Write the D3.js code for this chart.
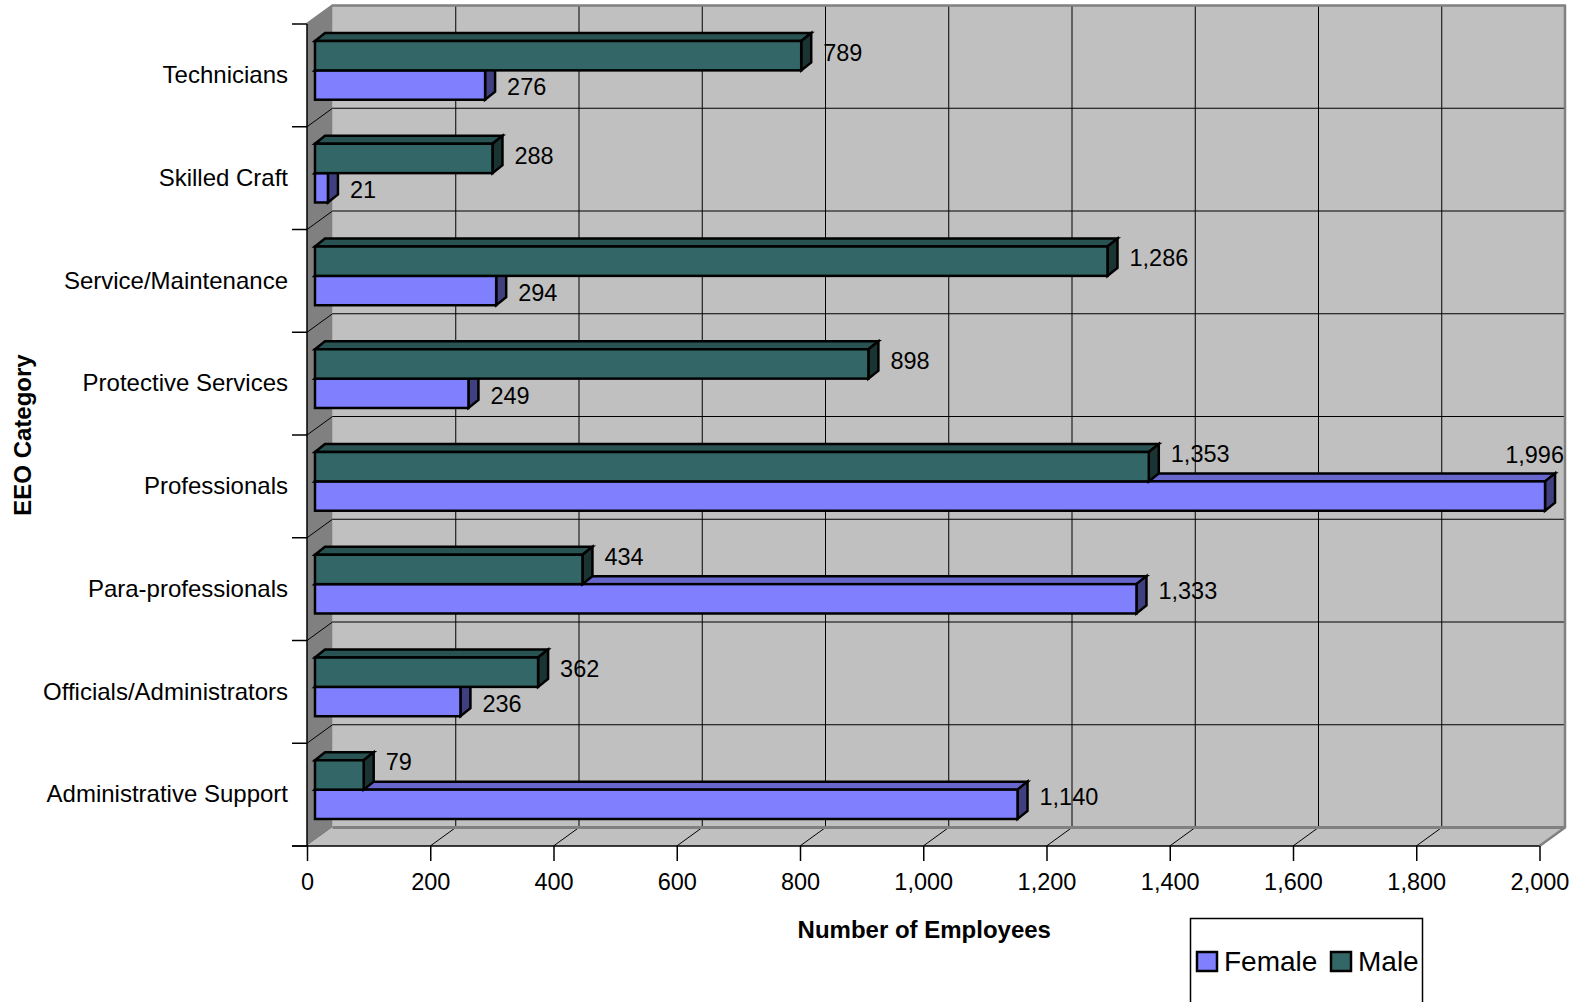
<!DOCTYPE html>
<html>
<head>
<meta charset="utf-8">
<script src="https://cdn.jsdelivr.net/npm/d3@7"></script>
<style>
  body { margin: 0; background: #ffffff; }
  text { font-family: "Liberation Sans", Arial, sans-serif; fill: #000; }
</style>
</head>
<body>
<svg id="chart" width="1583" height="1002"></svg>
<script>
// Employees by EEO category and sex
const categories = [
  "Technicians",
  "Skilled Craft",
  "Service/Maintenance",
  "Protective Services",
  "Professionals",
  "Para-professionals",
  "Officials/Administrators",
  "Administrative Support"
];
const femaleCounts = [276, 21, 294, 249, 1996, 1333, 236, 1140];
const maleCounts   = [789, 288, 1286, 898, 1353, 434, 362, 79];
const seriesNames  = ["Male", "Female"];          // stacking order inside a category band
const legendNames  = ["Female", "Male"];
const xTickValues  = [0, 200, 400, 600, 800, 1000, 1200, 1400, 1600, 1800, 2000];

const W = 1583, H = 1002;
const svg = d3.select("#chart").attr("viewBox", `0 0 ${W} ${H}`);

// front plane of the 3-D box and its depth
const plot = { left: 307, right: 1539.5, top: 24, bottom: 846 };
const depth = { dx: 25.5, dy: -18.5 };
// bars sit a little behind the front plane and have their own depth
const barShift = { dx: 8, dy: -5 };
const barDepth = { dx: 10, dy: -8 };

const colors = {
  Female: { front: "#8080ff", top: "#6666cc", side: "#404080" },
  Male:   { front: "#336666", top: "#295252", side: "#1a3333" }
};
const wallColor = "#c0c0c0", sideWallColor = "#808080", edgeColor = "#808080";

const x = d3.scaleLinear().domain([0, 2000]).range([plot.left, plot.right]);
const y = d3.scaleBand().domain(categories).range([plot.top, plot.bottom]).padding(0);
const ySeries = d3.scaleBand().domain(seriesNames).range([0, y.bandwidth()])
  .paddingInner(0).paddingOuter(0.75);

const fmt = d3.format(",");
const values = { Female: femaleCounts, Male: maleCounts };

// ---- walls ----
const walls = svg.append("g");
// back wall
walls.append("rect")
  .attr("x", plot.left + depth.dx).attr("y", plot.top + depth.dy)
  .attr("width", plot.right - plot.left).attr("height", plot.bottom - plot.top)
  .attr("fill", wallColor);
// left side wall
walls.append("polygon")
  .attr("points", [
    [plot.left, plot.top], [plot.left + depth.dx, plot.top + depth.dy],
    [plot.left + depth.dx, plot.bottom + depth.dy], [plot.left, plot.bottom]
  ].join(" "))
  .attr("fill", sideWallColor);
// floor
walls.append("polygon")
  .attr("points", [
    [plot.left, plot.bottom], [plot.right, plot.bottom],
    [plot.right + depth.dx, plot.bottom + depth.dy], [plot.left + depth.dx, plot.bottom + depth.dy]
  ].join(" "))
  .attr("fill", wallColor);

// ---- gridlines ----
const grid = svg.append("g").attr("stroke", "#000").attr("stroke-width", 1).attr("fill", "none");
const innerTicks = xTickValues.filter(v => v > 0 && v < 2000);
// vertical lines on back wall
grid.selectAll(".vgrid").data(innerTicks).join("line")
  .attr("x1", d => x(d) + depth.dx).attr("x2", d => x(d) + depth.dx)
  .attr("y1", plot.top + depth.dy).attr("y2", plot.bottom + depth.dy);
// lines across the floor
grid.selectAll(".fgrid").data(innerTicks).join("line")
  .attr("x1", d => x(d)).attr("y1", plot.bottom)
  .attr("x2", d => x(d) + depth.dx).attr("y2", plot.bottom + depth.dy);
// category boundaries
const bounds = categories.map(c => y(c)).concat([plot.bottom]);
const innerBounds = bounds.slice(1, -1);
grid.selectAll(".hgrid").data(innerBounds).join("line")
  .attr("x1", plot.left + depth.dx).attr("x2", plot.right + depth.dx)
  .attr("y1", d => d + depth.dy).attr("y2", d => d + depth.dy);
grid.selectAll(".wgrid").data(innerBounds).join("line")
  .attr("x1", plot.left).attr("y1", d => d)
  .attr("x2", plot.left + depth.dx).attr("y2", d => d + depth.dy);

// wall edges
const edges = svg.append("g").attr("stroke", edgeColor).attr("stroke-width", 2.5).attr("fill", "none")
  .attr("stroke-linejoin", "round");
edges.append("polyline").attr("points", [
  [plot.left, plot.top], [plot.left + depth.dx, plot.top + depth.dy],
  [plot.right + depth.dx, plot.top + depth.dy], [plot.right + depth.dx, plot.bottom + depth.dy],
  [plot.right, plot.bottom]
].join(" "));
edges.append("line")
  .attr("x1", plot.left + depth.dx).attr("x2", plot.right + depth.dx)
  .attr("y1", plot.bottom + depth.dy).attr("y2", plot.bottom + depth.dy)
  .attr("stroke-width", 3);

// ---- bars ----
function barGeom(cat, series, v) {
  const x0 = x(0) + barShift.dx;
  const x1 = x(v) + barShift.dx;
  const y0 = y(cat) + ySeries(series) + barShift.dy;
  const y1 = y0 + ySeries.bandwidth();
  return { x0, x1, y0, y1 };
}

const barsG = svg.append("g")
  .attr("stroke", "#000").attr("stroke-width", 2.5).attr("stroke-linejoin", "miter");

categories.forEach((cat, i) => {
  ["Female", "Male"].forEach(series => {
    const v = values[series][i];
    const g = barGeom(cat, series, v);
    const c = colors[series];
    const bar = barsG.append("g");
    bar.append("polygon").attr("fill", c.top).attr("points", [
      [g.x0, g.y0], [g.x1, g.y0], [g.x1 + barDepth.dx, g.y0 + barDepth.dy], [g.x0 + barDepth.dx, g.y0 + barDepth.dy]
    ].join(" "));
    bar.append("polygon").attr("fill", c.side).attr("points", [
      [g.x1, g.y0], [g.x1 + barDepth.dx, g.y0 + barDepth.dy],
      [g.x1 + barDepth.dx, g.y1 + barDepth.dy], [g.x1, g.y1]
    ].join(" "));
    bar.append("rect").attr("fill", c.front)
      .attr("x", g.x0).attr("y", g.y0).attr("width", g.x1 - g.x0).attr("height", g.y1 - g.y0);
  });
});

// ---- value labels ----
const labelSize = 23.5;
const labelsG = svg.append("g").attr("font-size", labelSize);
categories.forEach((cat, i) => {
  const femaleLonger = femaleCounts[i] > maleCounts[i];
  seriesNames.forEach(series => {
    const v = values[series][i];
    const g = barGeom(cat, series, v);
    const center = (g.y0 + g.y1) / 2;
    let cy = center + (series === "Male" ? -3 : 2) + (femaleLonger ? -10 : 0);
    let lx = g.x1 + barDepth.dx + 12;
    let anchor = "start";
    const t = labelsG.append("text").text(fmt(v));
    const w = t.node().getComputedTextLength();
    if (lx + w > W - 18) {           // keep label inside the chart area
      lx = W - 19; anchor = "end";
      cy = g.y0 + barDepth.dy - 19;
    }
    t.attr("x", lx).attr("y", cy + labelSize * 0.35).attr("text-anchor", anchor);
  });
});

// ---- axes ----
const xAxis = d3.axisBottom(x).tickValues(xTickValues).tickSize(15).tickSizeOuter(0)
  .tickPadding(12).tickFormat(fmt);
const xg = svg.append("g").attr("transform", `translate(0,${plot.bottom})`).call(xAxis);
xg.selectAll("text").attr("font-size", 23.5).attr("font-family", null);
xg.selectAll("line").attr("stroke", "#000").attr("stroke-width", 1.5);
xg.select(".domain").attr("stroke", "#000").attr("stroke-width", 1.5)
  .attr("d", `M${plot.left - 15},0H${plot.right}`);

const yAxis = d3.axisLeft(y).tickSize(0).tickPadding(19);
const yg = svg.append("g").attr("transform", `translate(${plot.left},0)`).call(yAxis);
yg.select(".domain").remove();
yg.selectAll("text").attr("font-size", 24).attr("font-family", null);

// category boundary ticks and axis line
const yLines = svg.append("g").attr("stroke", "#000").attr("stroke-width", 1.5);
yLines.selectAll("line.tick").data(bounds).join("line")
  .attr("x1", plot.left - 15).attr("x2", plot.left).attr("y1", d => d).attr("y2", d => d);
yLines.append("line").attr("x1", plot.left).attr("x2", plot.left)
  .attr("y1", plot.top).attr("y2", plot.bottom);

// axis titles
svg.append("text")
  .attr("x", (plot.left + plot.right) / 2 + 1).attr("y", 938)
  .attr("text-anchor", "middle").attr("font-size", 24).attr("font-weight", "bold")
  .text("Number of Employees");
svg.append("text")
  .attr("transform", `translate(31,435) rotate(-90)`)
  .attr("text-anchor", "middle").attr("font-size", 24).attr("font-weight", "bold")
  .text("EEO Category");

// ---- legend ----
const legend = svg.append("g");
legend.append("rect")
  .attr("x", 1190.5).attr("y", 918.5).attr("width", 232).attr("height", 110)
  .attr("fill", "#fff").attr("stroke", "#000").attr("stroke-width", 1.5);
const legendX = { Female: 1197, Male: 1331 };
legendNames.forEach(name => {
  legend.append("rect")
    .attr("x", legendX[name]).attr("y", 952).attr("width", 20).attr("height", 19)
    .attr("fill", colors[name].front).attr("stroke", "#000").attr("stroke-width", 2.5);
  legend.append("text")
    .attr("x", legendX[name] + 27).attr("y", 971).attr("font-size", 28)
    .text(name);
});
</script>
</body>
</html>
